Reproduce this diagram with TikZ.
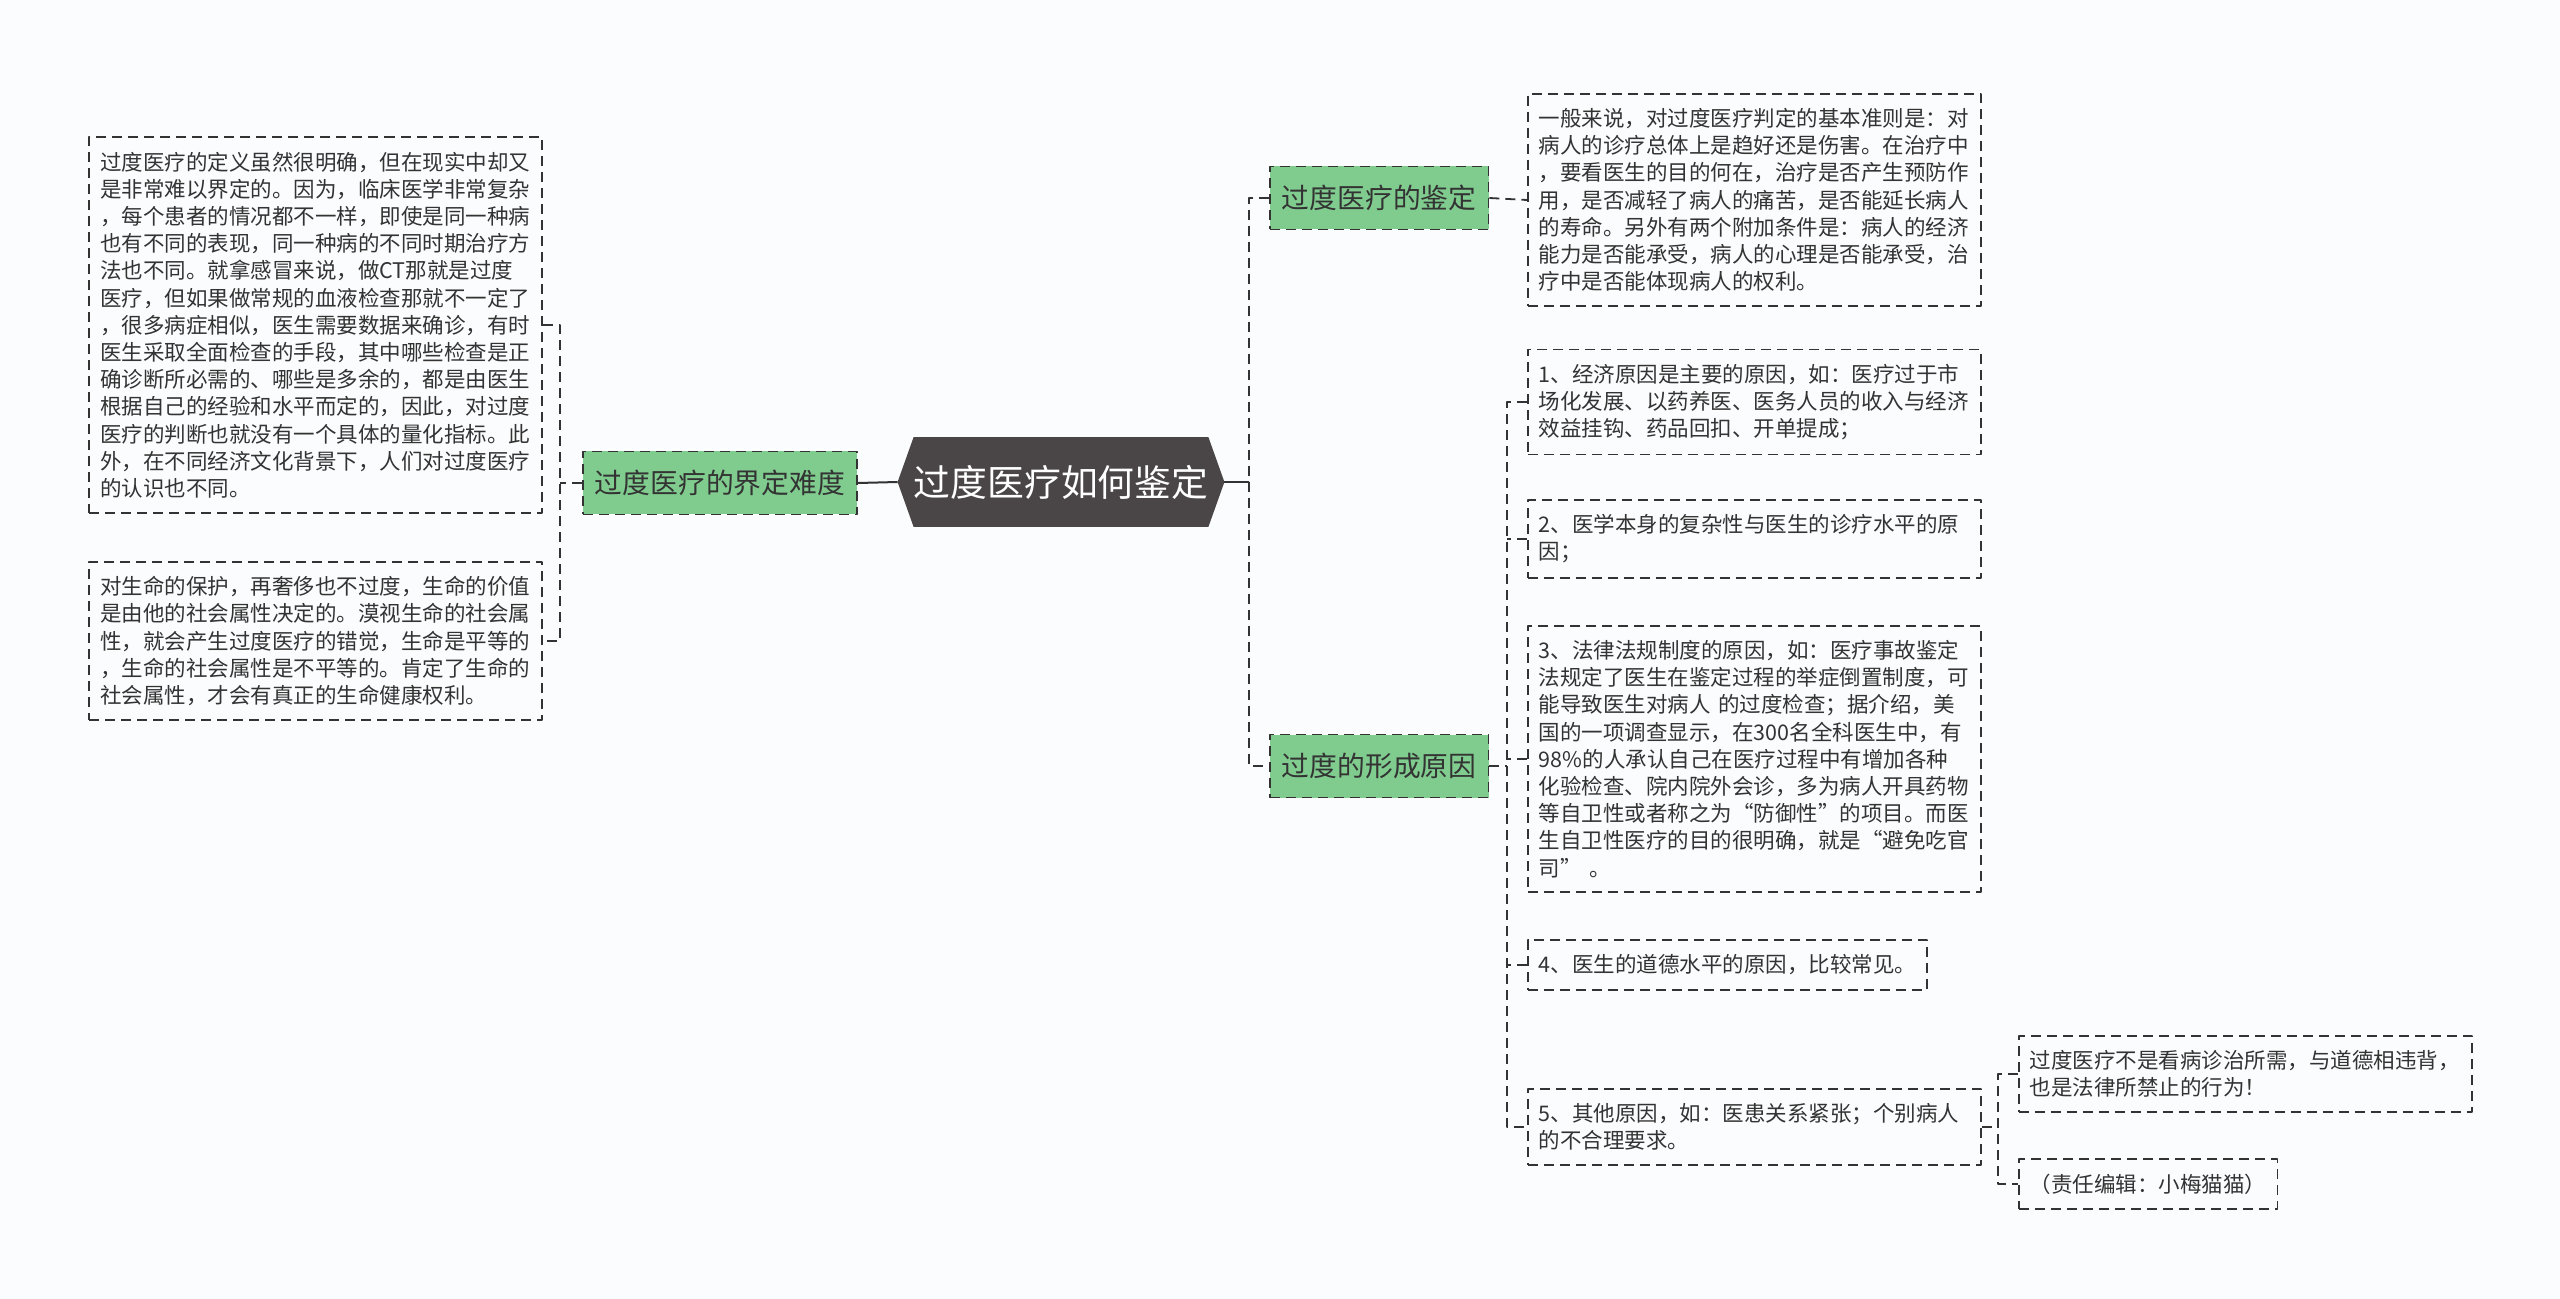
\documentclass[tikz,border=0pt]{standalone}
\usepackage{fontspec}
\setmainfont{Noto Sans CJK SC}
\usepackage{tikz}
\usetikzlibrary{backgrounds}
\definecolor{ink}{HTML}{333333}
\definecolor{leaf}{HTML}{80CC8F}
\definecolor{rootfill}{HTML}{4A4546}
\definecolor{paper}{HTML}{FBFCFD}
\tikzset{
  every picture/.style={line join=round},
  link/.style={draw=ink, line width=0.9pt, dash pattern=on 5pt off 3pt},
  trunk/.style={draw=ink, line width=1pt},
  rootbox/.style={text=white, minimum width=163pt, minimum height=44.5pt, inner sep=0pt,
    font=\fontsize{18.4}{22}\selectfont},
  topic/.style={link, fill=leaf, text=ink, minimum height=31.5pt, inner xsep=6pt, inner ysep=0pt,
    font=\fontsize{13.9}{16}\selectfont},
  textbox/.style={link, text=ink, align=left, inner xsep=5.5pt, inner ysep=7.25pt,
    font=\fontsize{10.75}{13.6}\selectfont},
  widebox/.style={textbox, text width=215.5pt},
}
\begin{document}
\begin{tikzpicture}[x=0.5pt, y=-0.5pt]
\useasboundingbox (0,0) rectangle (2560,1299);

% centre
\node[rootbox] (root) at (1061,482) {过度医疗如何鉴定};

% left side
\node[topic] (jieding) at (720,483) {过度医疗的界定难度};
\node[widebox, anchor=east] (def) at (543,325) {过度医疗的定义虽然很明确，但在现实中却又\\是非常难以界定的。因为，临床医学非常复杂\\，每个患者的情况都不一样，即使是同一种病\\也有不同的表现，同一种病的不同时期治疗方\\法也不同。就拿感冒来说，做CT那就是过度\\医疗，但如果做常规的血液检查那就不一定了\\，很多病症相似，医生需要数据来确诊，有时\\医生采取全面检查的手段，其中哪些检查是正\\确诊断所必需的、哪些是多余的，都是由医生\\根据自己的经验和水平而定的，因此，对过度\\医疗的判断也就没有一个具体的量化指标。此\\外，在不同经济文化背景下，人们对过度医疗\\的认识也不同。};
\node[widebox, anchor=east] (life) at (543,641) {对生命的保护，再奢侈也不过度，生命的价值\\是由他的社会属性决定的。漠视生命的社会属\\性，就会产生过度医疗的错觉，生命是平等的\\，生命的社会属性是不平等的。肯定了生命的\\社会属性，才会有真正的生命健康权利。};

% right side
\node[topic, anchor=west] (jianding) at (1269,198) {过度医疗的鉴定};
\node[topic, anchor=west] (yuanyin) at (1269,766) {过度的形成原因};
\node[widebox, anchor=west] (rule) at (1527,200) {一般来说，对过度医疗判定的基本准则是：对\\病人的诊疗总体上是趋好还是伤害。在治疗中\\，要看医生的目的何在，治疗是否产生预防作\\用，是否减轻了病人的痛苦，是否能延长病人\\的寿命。另外有两个附加条件是：病人的经济\\能力是否能承受，病人的心理是否能承受，治\\疗中是否能体现病人的权利。};
\node[widebox, anchor=west] (c1) at (1527,402) {1、经济原因是主要的原因，如：医疗过于市\\场化发展、以药养医、医务人员的收入与经济\\效益挂钩、药品回扣、开单提成；};
\node[widebox, anchor=west] (c2) at (1527,539) {2、医学本身的复杂性与医生的诊疗水平的原\\因；};
\node[widebox, anchor=west] (c3) at (1527,759) {3、法律法规制度的原因，如：医疗事故鉴定\\法规定了医生在鉴定过程的举症倒置制度，可\\能导致医生对病人 的过度检查；据介绍，美\\国的一项调查显示，在300名全科医生中，有\\98\%的人承认自己在医疗过程中有增加各种\\化验检查、院内院外会诊，多为病人开具药物\\等自卫性或者称之为“防御性”的项目。而医\\生自卫性医疗的目的很明确，就是“避免吃官\\司” 。};
\node[textbox, anchor=west] (c4) at (1527,965) {4、医生的道德水平的原因，比较常见。};
\node[widebox, anchor=west] (c5) at (1527,1127) {5、其他原因，如：医患关系紧张；个别病人\\的不合理要求。};
\node[widebox, anchor=west] (n1) at (2018,1074) {过度医疗不是看病诊治所需，与道德相违背，\\也是法律所禁止的行为！};
\node[textbox, anchor=west] (n2) at (2018,1184) {（责任编辑：小梅猫猫）};

\coordinate (lt) at (560,483);
\coordinate (rt) at (1249,482);
\coordinate (ct) at (1507,766);
\coordinate (nt) at (1998,1127);

\begin{scope}[on background layer]
\fill[paper] (0,0) rectangle (2560,1299);
\fill[rootfill] (root.west) -- ([xshift=8pt]root.north west) -- ([xshift=-8pt]root.north east)
  -- (root.east) -- ([xshift=-8pt]root.south east) -- ([xshift=8pt]root.south west) -- cycle;
\end{scope}

% connectors
\draw[trunk] (root.west) -- (jieding.east);
\draw[link] (jieding.west) -- (lt);
\draw[link] (def.east) -| (lt) |- (life.east);
\draw[trunk] (root.east) -- (rt);
\draw[link] (jianding.west) -| (rt) |- (yuanyin.west);
\draw[link] (jianding.east) -- (rule.west);
\draw[link] (yuanyin.east) -- (ct);
\draw[link] (c1.west) -| (ct) |- (c5.west);
\foreach \n in {c2,c3,c4}
  \draw[link] (\n.west) -- (\n.west -| ct);
\draw[link] (c5.east) -- (nt);
\draw[link] (n1.west) -| (nt) |- (n2.west);
\end{tikzpicture}
\end{document}
